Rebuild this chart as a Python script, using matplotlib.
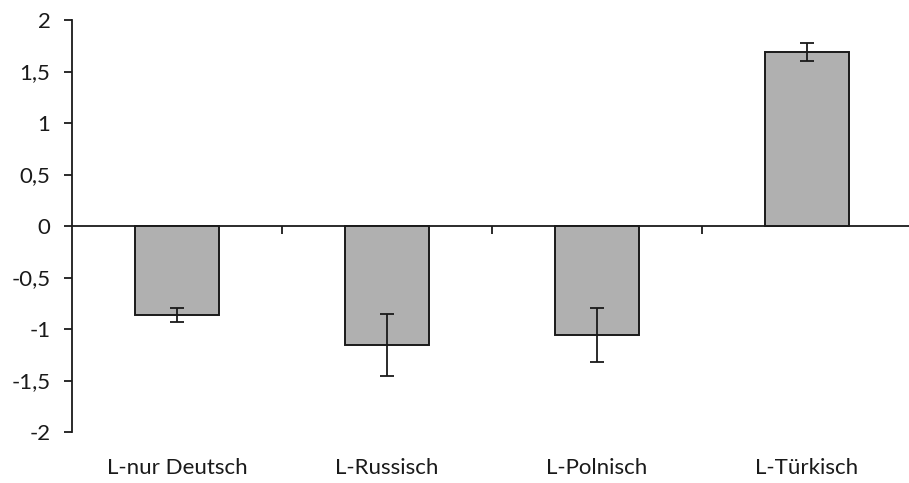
import numpy as np
import matplotlib
matplotlib.use('Agg')
import matplotlib.pyplot as plt
from matplotlib.ticker import FuncFormatter

plt.rcParams['font.family'] = ['Lato', 'DejaVu Sans']

# values
categories = ['L-nur Deutsch', 'L-Russisch', 'L-Polnisch', 'L-Türkisch']
means = [-0.865, -1.155, -1.06, 1.685]
errors = [0.067, 0.30, 0.265, 0.087]
yticks = [-2, -1.5, -1, -0.5, 0, 0.5, 1, 1.5, 2]

fig = plt.figure(figsize=(9.09, 4.83), dpi=100)
ax = fig.add_axes([72 / 909, 51 / 483, 840 / 909, 412 / 483])

x = np.arange(1, len(categories) + 1)
ax.bar(x, means, width=0.4, color='#b0b0b0', edgecolor='#1a1a1a', linewidth=1.4, zorder=2)
ax.errorbar(x, means, yerr=errors, fmt='none', ecolor='#1a1a1a', elinewidth=1.3,
            capsize=4.7, capthick=1.3, zorder=3)

ax.set_xlim(0.5, len(categories) + 0.5)
ax.set_ylim(-2, 2)
ax.set_yticks(yticks)
ax.yaxis.set_major_formatter(FuncFormatter(lambda v, p: ('%g' % v).replace('.', ',')))
ax.tick_params(axis='y', length=5.5, width=1.3, pad=10, labelsize=16, colors='#1a1a1a')

# category labels at the bottom, no tick marks
ax.set_xticks(x)
ax.set_xticklabels(categories)
ax.tick_params(axis='x', length=0, pad=19, labelsize=16, colors='#1a1a1a')

for s in ['top', 'right', 'bottom']:
    ax.spines[s].set_visible(False)
ax.spines['left'].set_linewidth(1.3)
ax.spines['left'].set_color('#1a1a1a')

# horizontal axis line at zero with boundary ticks
sec = ax.secondary_xaxis(0, transform=ax.transData)
sec.set_xticks(np.arange(1.5, len(categories), 1.0))
sec.set_xticklabels([])
sec.tick_params(length=5.5, width=1.3, direction='out', colors='#1a1a1a')
sec.spines['bottom'].set_linewidth(1.3)
sec.spines['bottom'].set_color('#1a1a1a')

fig.savefig('out.png', dpi=100)
